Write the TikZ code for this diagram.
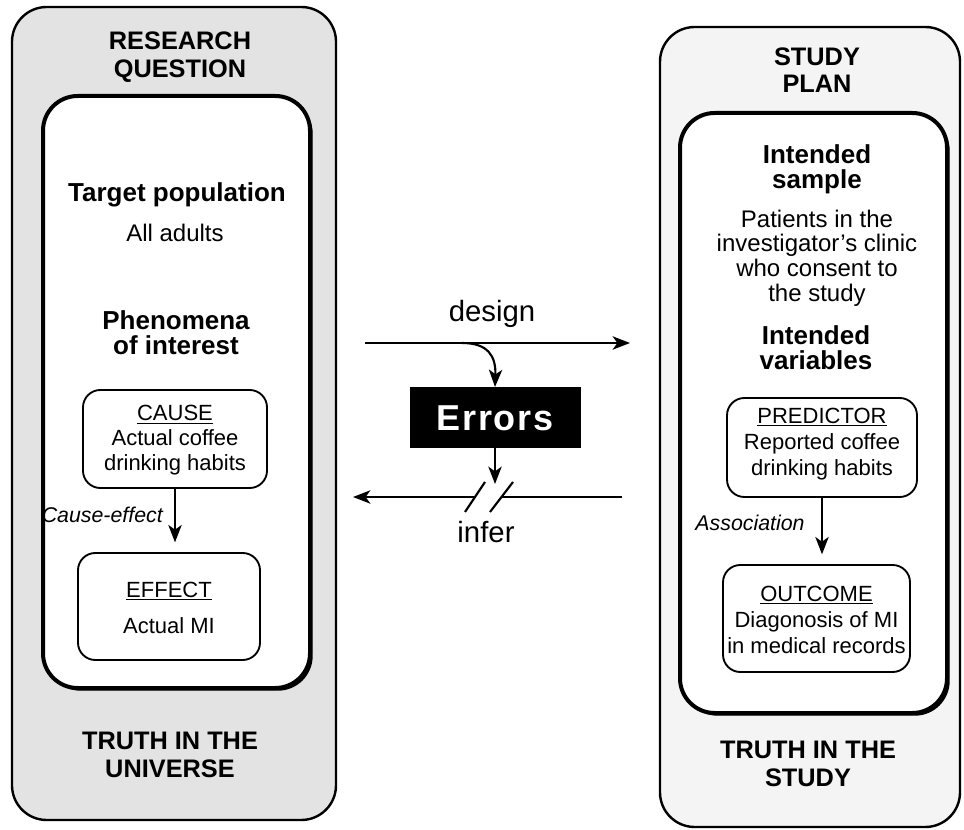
\documentclass[tikz,border=0pt]{standalone}
\usepackage{fontspec}
\setmainfont{Liberation Sans}
\usetikzlibrary{arrows.meta,calc,shadows}
\begin{document}
\begin{tikzpicture}[x=0.75pt,y=-0.75pt,
  outerbox/.style={draw, line width=1.8pt, rounded corners=26pt, inner sep=0pt, outer sep=0pt},
  innerbox/.style={draw, line width=3pt, fill=white, rounded corners=26pt, inner sep=0pt, outer sep=0pt,
    drop shadow={fill=black, opacity=1, shadow xshift=2pt, shadow yshift=-2pt}},
  smallbox/.style={draw, line width=1.4pt, fill=white, rounded corners=13pt, inner sep=0pt, outer sep=0pt},
  errbox/.style={fill=black, draw=black, inner sep=0pt, outer sep=0pt, minimum width=127.5pt, minimum height=45pt},
  arr/.style={line width=1.6pt, -{Stealth[length=13pt,width=10pt,inset=3.5pt]}},
  ttl/.style={font=\fontsize{19}{20.5}\selectfont\bfseries, align=center, inner sep=0pt},
  hd/.style={font=\fontsize{19.5}{19}\selectfont\bfseries, align=center, inner sep=0pt},
  bd/.style={font=\fontsize{18}{18.6}\selectfont, align=center, inner sep=0pt},
  bx/.style={font=\fontsize{16.5}{18.5}\selectfont, align=center, inner sep=0pt},
  lbl/.style={font=\fontsize{16}{18}\selectfont\itshape, inner sep=0pt},
  midtxt/.style={font=\fontsize{22}{24}\selectfont, inner sep=0pt}
]
\useasboundingbox[fill=white] (0,0) rectangle (964,830);

% ---------- left column ----------
\node[outerbox, fill=gray!22, minimum width=243pt, minimum height=609.75pt] (qout) at (174,413.5) {};
\node[innerbox, minimum width=200.25pt, minimum height=444pt] (qin) at (176.5,392) {};
\node[ttl] (qttl) at (180,57) {RESEARCH\\QUESTION};
\node[hd] (tp) at (177,195) {Target population};
\node[bd] (aa) at (175,233) {All adults};
\node[hd] (phen) at (176,333) {Phenomena\\of interest};
\node[smallbox, minimum width=138pt, minimum height=73.5pt] (cause) at (175,439) {};
\node[bx] (causet) at (175,440) {\underline{CAUSE}\\Actual coffee\\drinking habits};
\node[smallbox, minimum width=136.5pt, minimum height=80.25pt] (effect) at (169,606.5) {};
\node[bx, font=\fontsize{16.5}{27}\selectfont] (effectt) at (169,608) {\underline{EFFECT}\\Actual MI};
\draw[arr, shorten >=8pt] (cause.south) -- (cause.south |- effect.north);
\node[lbl, anchor=east] (ce) at (163,515) {Cause-effect};
\node[ttl] (quni) at (170,755) {TRUTH IN THE\\UNIVERSE};

% ---------- right column ----------
\node[outerbox, fill=gray!9, minimum width=225pt, minimum height=600pt] (sout) at (810,427) {};
\node[innerbox, minimum width=200.25pt, minimum height=450pt] (sin) at (813.5,413) {};
\node[ttl] (sttl) at (817,70) {STUDY\\PLAN};
\node[hd] (isamp) at (817,169) {Intended\\sample};
\node[bd] (pat) at (817,258) {Patients in the\\investigator's clinic\\who consent to\\the study};
\node[hd] (ivar) at (816,348) {Intended\\variables};
\node[smallbox, minimum width=142.5pt, minimum height=74.25pt] (pred) at (822,447.5) {};
\node[bx, font=\fontsize{16.5}{19.5}\selectfont] (predt) at (822,444) {\underline{PREDICTOR}\\Reported coffee\\drinking habits};
\node[smallbox, minimum width=140.25pt, minimum height=80.25pt] (outc) at (816.5,618.5) {};
\node[bx, font=\fontsize{16.5}{19.5}\selectfont] (outct) at (816.5,620) {\underline{OUTCOME}\\Diagonosis of MI\\in medical records};
\draw[arr, shorten >=8pt] (pred.south) -- (pred.south |- outc.north);
\node[lbl] (assoc) at (750,523) {Association};
\node[ttl] (sstudy) at (808,764) {TRUTH IN THE\\STUDY};

% ---------- middle ----------
\node[midtxt] (design) at (492,314) {design};
\coordinate (dstart) at (365,343);
\coordinate (dend) at (630,343);
\draw[arr] (dstart) -- (dend);
\node[errbox] (err) at (495,417) {};
\node[font=\fontsize{27}{27}\selectfont\bfseries\addfontfeatures{LetterSpace=5}, text=white, inner sep=0pt] (errt) at (495,418) {Errors};
\coordinate (cstart) at (462,343);
\draw[arr] (cstart) .. controls (488,343) and (496,356) .. (err.north);
\coordinate (dtip) at (495,484);
\draw[arr] (err.south) -- (dtip);
\coordinate (istart) at (622,497);
\coordinate (s2m) at (501.5,497);
\coordinate (s1m) at (475,497);
\coordinate (iend) at (353,497);
\coordinate (s1a) at (465,512);
\coordinate (s1b) at (485,482);
\coordinate (s2a) at (490,512);
\coordinate (s2b) at (513,482);
\draw[line width=1.6pt] (istart) -- (s2m);
\draw[arr] (s1m) -- (iend);
\draw[line width=1.6pt] (s1a) -- (s1b);
\draw[line width=1.6pt] (s2a) -- (s2b);
\node[midtxt] (infer) at (486,532) {infer};
\end{tikzpicture}
\end{document}
